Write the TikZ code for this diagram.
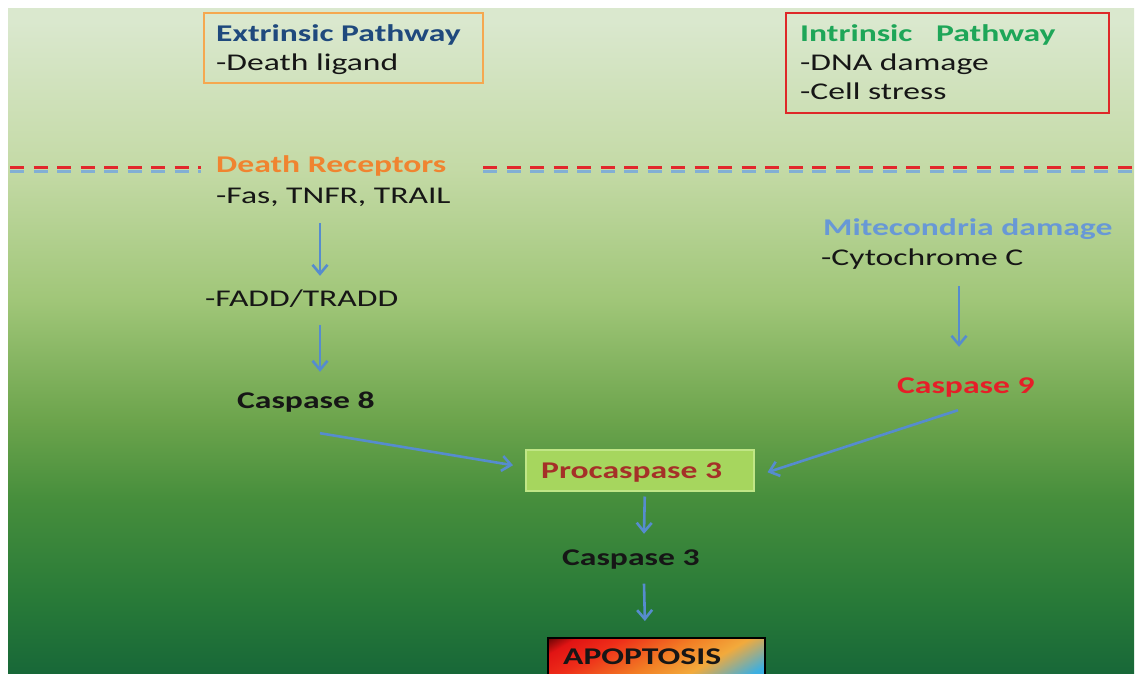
\documentclass[tikz,border=0pt]{standalone}
\usepackage{fontspec}
\setmainfont{Carlito}[FakeStretch=1.4]
\usetikzlibrary{arrows.meta,calc}
\definecolor{bg0}{RGB}{24,104,56}
\definecolor{bg1}{RGB}{40,122,56}
\definecolor{bg2}{RGB}{70,142,60}
\definecolor{bg3}{RGB}{108,164,76}
\definecolor{bg4}{RGB}{160,198,120}
\definecolor{bg5}{RGB}{196,218,166}
\definecolor{bg6}{RGB}{218,232,206}
\definecolor{extblue}{RGB}{31,73,125}
\definecolor{intgreen}{RGB}{30,166,88}
\definecolor{drorange}{RGB}{240,132,48}
\definecolor{mitblue}{RGB}{104,152,214}
\definecolor{c9red}{RGB}{230,30,40}
\definecolor{procred}{RGB}{165,48,40}
\definecolor{procfill}{RGB}{166,214,94}
\definecolor{procline}{RGB}{192,230,134}
\definecolor{arrblue}{RGB}{86,140,206}
\definecolor{extline}{RGB}{245,168,80}
\definecolor{intline}{RGB}{222,40,40}
\definecolor{dashred}{RGB}{226,40,44}
\definecolor{dashshadow}{RGB}{130,175,212}
\definecolor{txtblack}{RGB}{22,22,22}
\definecolor{ap0}{RGB}{70,0,0}
\definecolor{ap1}{RGB}{225,20,20}
\definecolor{ap2}{RGB}{238,45,25}
\definecolor{ap3}{RGB}{242,125,36}
\definecolor{ap4}{RGB}{242,170,60}
\definecolor{ap5}{RGB}{60,175,225}
\pgfdeclareverticalshading{bgshade}{100bp}{color(0bp)=(bg0); color(25bp)=(bg0); color(30.5bp)=(bg1); color(38bp)=(bg2); color(44bp)=(bg3); color(53bp)=(bg4); color(63bp)=(bg5); color(74bp)=(bg6); color(100bp)=(bg6)}
\pgfdeclarehorizontalshading{apshade}{100bp}{color(0bp)=(ap0); color(14bp)=(ap0); color(22bp)=(ap1); color(32bp)=(ap2); color(48bp)=(ap3); color(60bp)=(ap4); color(74bp)=(ap5); color(100bp)=(ap5)}
\begin{document}
\begin{tikzpicture}[x=1pt,y=-1pt,
  txt/.style={font=\fontsize{24}{28}\selectfont, inner sep=0pt, text height=17pt, text depth=5pt, anchor=base west, text=txtblack},
  btxt/.style={txt, font=\fontsize{24}{28}\selectfont\bfseries},
  arr/.style={draw=arrblue, line width=2.6pt, -{Straight Barb[length=9pt,width=15pt,line width=2.6pt]}},
  framebox/.style={anchor=north west, inner sep=0pt, line width=1.6pt},
  dashline/.style={line width=3pt, dash pattern=on 14pt off 9.5pt}
]
\useasboundingbox (0,0) rectangle (1138,673);
\fill[white] (0,0) rectangle (1138,673);
\shade[shading=bgshade] (8,8) rectangle (1134,673);

% dashed separator
\draw[dashline, draw=dashshadow] (10,171) -- (201,171);
\draw[dashline, draw=dashshadow] (483,171) -- (1134,171);
\draw[dashline, draw=dashred] (10,167) -- (201,167);
\draw[dashline, draw=dashred] (483,167) -- (1134,167);

% boxes
\node[framebox, draw=extline, minimum width=279pt, minimum height=70pt] (extbox) at (203,12) {};
\node[framebox, draw=intline, minimum width=323pt, minimum height=100pt] (intbox) at (785,12) {};
\node[framebox, fill=procfill, draw=procline, line width=1.5pt, minimum width=228pt, minimum height=41pt] (procbox) at (525,449) {};
\begin{scope}
\clip (0,0) rectangle (1138,673);
\node[framebox, shading=apshade, shading angle=-60, draw=black, line width=1.8pt, minimum width=217pt, minimum height=56pt] (apopbox) at (547,637) {};
\end{scope}

% texts
\node[btxt, text=extblue] (extT) at (216,41) {Extrinsic Pathway};
\node[txt] (extL) at (216,70) {-Death ligand};
\node[btxt, text=intgreen] (intT) at (800,41) {Intrinsic\hspace{16pt} Pathway};
\node[txt] (intL1) at (800,70) {-DNA damage};
\node[txt] (intL2) at (800,99) {-Cell stress};
\node[btxt, text=drorange] (drT) at (216,172) {Death Receptors};
\node[txt] (drL) at (216,203) {-Fas, TNFR, TRAIL};
\node[txt] (fadd) at (205,306) {-FADD/TRADD};
\node[btxt] (c8) at (237,408) {Caspase 8};
\node[btxt, text=mitblue] (mitT) at (823,235) {Mitecondria damage};
\node[txt] (cyt) at (821,265) {-Cytochrome C};
\node[btxt, text=c9red] (c9) at (897,393) {Caspase 9};
\node[btxt, text=procred] (proc) at (541,478) {Procaspase 3};
\node[btxt] (c3) at (562,565) {Caspase 3};
\node[btxt] (apop) at (563,664) {APOPTOSIS};

% arrows
\draw[arr] ($(drL.south west)+(104,15)$) -- ($(fadd.north west)+(115,-13)$);
\draw[arr] ($(fadd.south west)+(115,14)$) -- ($(c8.north west)+(83,-19)$);
\draw[arr] ($(c8.south west)+(83,20)$) -- ($(procbox.west)+(-12,-5)$);
\draw[arr] ($(cyt.south west)+(138,16)$) -- ($(c9.north west)+(62,-29)$);
\draw[arr] ($(c9.south west)+(61,12)$) -- ($(procbox.east)+(13,2)$);
\draw[arr] ($(procbox.south)+(5,5)$) -- ($(c3.north west)+(82,-14)$);
\draw[arr] ($(c3.south west)+(82,13.5)$) -- ($(apopbox.north)+(-11.5,-16)$);
\end{tikzpicture}
\end{document}
